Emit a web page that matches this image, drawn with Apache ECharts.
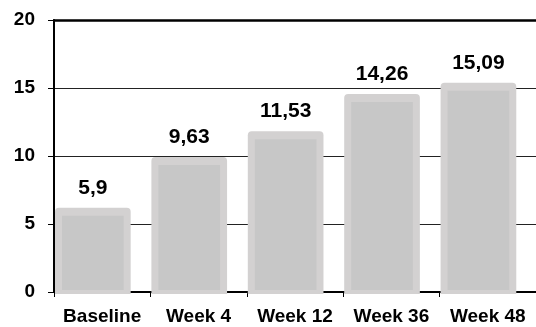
<!DOCTYPE html>
<html>
<head>
<meta charset="utf-8">
<script src="https://cdn.jsdelivr.net/npm/echarts@6/dist/echarts.min.js"></script>
<style>
  html, body { margin: 0; padding: 0; background: #fff; }
  #main { width: 536px; height: 327px; }
</style>
</head>
<body>
<div id="main"></div>
<script>
// 数据
const weeks = ["Baseline", "Week 4", "Week 12", "Week 36", "Week 48"];
const scores = [5.9, 9.63, 11.53, 14.26, 15.09];
const yTicks = { min: 0, max: 20, interval: 5 };

const font = "'Liberation Sans', Arial, sans-serif";

// 柱子：靠左对齐，浅灰边框 + 深一点的内部
function renderBar(params, api) {
  const idx = api.value(0);
  const val = api.value(1);
  const top = api.coord([idx, val]);
  const base = api.coord([idx, 0]);
  const catW = api.size([1, 0])[0];
  const left = top[0] - catW / 2 + 1;
  const w = catW * 0.785;
  const y0 = top[1] - 4;
  return {
    type: "group",
    children: [
      {
        type: "rect",
        shape: { x: left, y: y0, width: w, height: base[1] + 2 - y0, r: [4, 4, 0, 0] },
        style: { fill: "#d3d1d1" },
      },
      {
        type: "rect",
        shape: { x: left + 7, y: y0 + 8, width: w - 14, height: base[1] - 2 - (y0 + 8) },
        style: { fill: "#c7c7c7" },
      },
      {
        type: "text",
        style: {
          text: String(val).replace(".", ","),
          x: left + w / 2,
          y: top[1] - 24,
          align: "center",
          verticalAlign: "middle",
          font: "bold 21px " + font,
          fill: "#000",
        },
      },
    ],
  };
}

const option = {
  animation: false,
  backgroundColor: "#ffffff",
  grid: { left: 54, right: -5, top: 20, bottom: 35 },
  xAxis: [
    {
      type: "category",
      data: weeks,
      axisLine: { lineStyle: { color: "#000", width: 2 } },
      axisTick: { show: true, length: 5, lineStyle: { color: "#000", width: 1 } },
      axisLabel: {
        interval: 0,
        color: "#000",
        fontFamily: font,
        fontWeight: "bold",
        fontSize: 19,
        margin: 15,
      },
    },
    {
      // 顶部粗线
      type: "category",
      position: "top",
      data: weeks,
      axisLine: { show: true, lineStyle: { color: "#000", width: 2.5 } },
      axisTick: { show: false },
      axisLabel: { show: false },
    },
  ],
  yAxis: {
    type: "value",
    min: yTicks.min,
    max: yTicks.max,
    interval: yTicks.interval,
    axisLine: { show: true, lineStyle: { color: "#000", width: 2 } },
    axisTick: { show: true, length: 6, lineStyle: { color: "#000", width: 1 } },
    axisLabel: {
      color: "#000",
      fontFamily: font,
      fontWeight: "bold",
      fontSize: 19,
      margin: 19,
    },
    splitLine: { lineStyle: { color: "#222", width: 1 } },
  },
  series: [
    {
      type: "custom",
      data: scores.map((v, i) => [i, v]),
      encode: { x: 0, y: 1 },
      renderItem: renderBar,
    },
  ],
};

const myChart = echarts.init(document.getElementById("main"));
myChart.setOption(option);
</script>
</body>
</html>
